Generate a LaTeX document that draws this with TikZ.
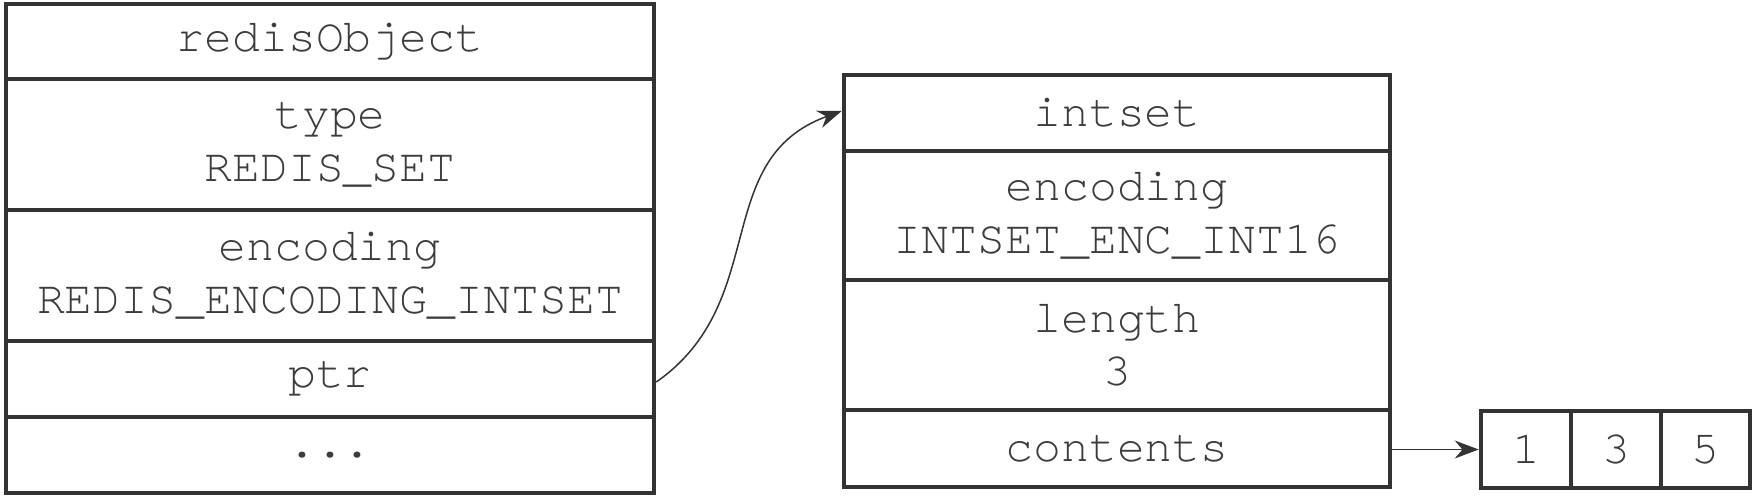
\documentclass[tikz,border=0pt]{standalone}
\usepackage{fontspec}
\newfontfamily\monof{TeX Gyre Cursor}
\usetikzlibrary{arrows.meta}
\definecolor{lineC}{HTML}{333333}
\definecolor{textC}{HTML}{3C3C3C}
\tikzset{
  cell/.style={draw=lineC, line width=4.6pt, rectangle, inner sep=0pt, outer sep=0pt,
    align=center, text=textC, font=\monof\fontsize{46.5}{53}\selectfont},
  ptrarrow/.style={draw=lineC, line width=1.5pt, -{Stealth[length=24pt,width=18pt]}}
}
\begin{document}
\begin{tikzpicture}[x=1pt,y=-1pt]
\useasboundingbox (0,0) rectangle (1755,498);
% redisObject
\node[cell, minimum width=648pt, minimum height=75pt] (ro) at (330,41.5) {redisObject};
\node[cell, minimum width=648pt, minimum height=131pt] (rtype) at (330,144.5) {type\\REDIS\_SET};
\node[cell, minimum width=648pt, minimum height=131pt] (renc) at (330,275.5) {encoding\\REDIS\_ENCODING\_INTSET};
\node[cell, minimum width=648pt, minimum height=76pt] (rptr) at (330,379) {ptr};
\node[cell, minimum width=648pt, minimum height=76pt] (rdots) at (330,455) {...};
% intset
\node[cell, minimum width=546pt, minimum height=76pt] (is) at (1117,113) {intset};
\node[cell, minimum width=546pt, minimum height=129pt] (ienc) at (1117,215.5) {encoding\\INTSET\_ENC\_INT16};
\node[cell, minimum width=546pt, minimum height=130pt] (ilen) at (1117,345) {length\\3};
\node[cell, minimum width=546pt, minimum height=77pt] (icont) at (1117,448.5) {contents};
% array
\node[cell, minimum width=90pt, minimum height=77pt] (a1) at (1526,449.5) {1};
\node[cell, minimum width=90pt, minimum height=77pt] (a3) at (1616,449.5) {3};
\node[cell, minimum width=89pt, minimum height=77pt] (a5) at (1705.5,449.5) {5};
% connectors
\draw[ptrarrow] ([xshift=2.3pt,yshift=-3pt]rptr.east) to[out=35, in=200, looseness=1.1] ([xshift=-2.3pt,yshift=2pt]is.west);
\draw[ptrarrow] ([xshift=2.3pt]icont.east |- a1.west) -- ([xshift=-2.3pt]a1.west);
\end{tikzpicture}
\end{document}
